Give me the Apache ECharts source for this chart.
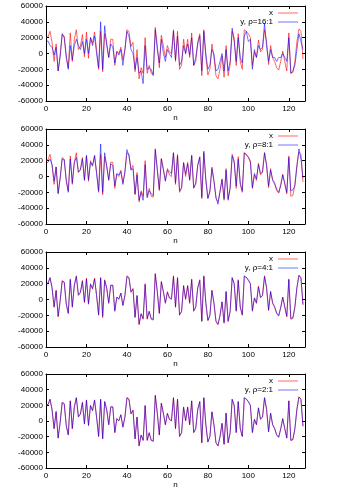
<!DOCTYPE html>
<html>
<head>
<meta charset="utf-8">
<script src="https://cdn.jsdelivr.net/npm/echarts@6/dist/echarts.min.js"></script>
<style>
    html, body { margin: 0; padding: 0; background: #fff; }
    #main { width: 350px; height: 490px; }
</style>
</head>
<body>
<div id="main"></div>
<script>
// original signal x (same in every panel)
var x = [
    20000, 21000, 28000, 14000, -10000, 12000, -22000, -2000, 24000, 22000, -6000, -18000, 26000, -10000, 18000, 30000,
    5000, 9000, 24000, -4000, 27000, -6000, 20000, 13000, 27000, 5000, -20000, 28000, -23000, 25000, 14000, -5000,
    18000, 18000, -15000, 3000, 0, 8000, -8000, 5000, 30000, 28000, 9000, 14000, -23000, 5000, -32000, -18000,
    -25000, 20000, -25000, -15000, -25000, -26000, 33000, 10000, -18000, 23000, 10000, -5000, 10000, 2000, 0, 30000,
    -10000, 28000, -20000, -15000, 18000, 0, 18000, -5000, 26000, -15000, -10000, 15000, 25000, -28000, 30000, -5000,
    -27000, -20000, 12000, -5000, -28000, -32000, -20000, -3000, -30000, 10000, -28000, -15000, 28000, 20000, -15000, 25000,
    -10000, -20000, 30000, 28000, 25000, 20000, -15000, 2000, -5000, 17000, 2000, 5000, 30000, 15000, -14000, 10000,
    -5000, -10000, -18000, -21000, -10000, 3000, -10000, -22000, 26000, -25000, -24000, -10000, 15000, 31000, 28000, -7000
];
// reconstructed y for each compression ratio
var y16 = [
    14000, 16000, 10000, 8000, -2000, 8000, -22000, -4000, 25000, 20000, -2000, -20000, 10000, -8000, 10000, 18000,
    10000, 5000, 15000, 0, 18000, 0, 20000, 10000, 22000, 0, -18000, 40000, -20000, 35000, 10000, -5000,
    12000, 8000, -12000, 2000, -2000, 5000, -15000, 5000, 28000, 22000, 5000, 0, -20000, -5000, -25000, -22000,
    -38000, 10000, -20000, -18000, -20000, -28000, 30000, 5000, -12000, 18000, 0, -10000, 5000, 0, -5000, 28000,
    -8000, 22000, -15000, -10000, 10000, 0, 12000, -2000, 20000, -15000, -5000, 12000, 22000, -22000, 28000, 0,
    -20000, -15000, 5000, 0, -22000, -20000, -10000, 0, -22000, 5000, -22000, -10000, 32000, 15000, -10000, 20000,
    -5000, -12000, 22000, 28000, 15000, 18000, -20000, 5000, -5000, 10000, 5000, 8000, 38000, 10000, -10000, 5000,
    -5000, -5000, -10000, -5000, -5000, 0, -5000, -10000, 20000, -25000, -22000, -15000, 5000, 25000, 15000, 5000
];
var y8 = [
    17000, 18000, 22000, 15000, -6000, 12000, -21000, -2000, 22000, 21000, -4000, -20000, 22000, -8000, 18000, 24000,
    6000, 8000, 22000, -5000, 26000, -4000, 18000, 14000, 26000, 4000, -18000, 41000, -20000, 30000, 12000, -4000,
    16000, 14000, -12000, 4000, 2000, 6000, -10000, 6000, 34000, 26000, 8000, 10000, -22000, 2000, -30000, -20000,
    -30000, 15000, -27000, -18000, -22000, -24000, 35000, 8000, -16000, 22000, 8000, -6000, 8000, 6000, 4000, 30000,
    -8000, 26000, -18000, -14000, 17000, 3000, 16000, -4000, 27000, -14000, -8000, 14000, 24000, -26000, 32000, -4000,
    -28000, -18000, 10000, -6000, -26000, -35000, -18000, -4000, -28000, 8000, -30000, -14000, 26000, 18000, -12000, 22000,
    -8000, -18000, 30000, 27000, 24000, 18000, -14000, 4000, -3000, 15000, 4000, 6000, 30000, 14000, -12000, 8000,
    -4000, -8000, -16000, -20000, -12000, 2000, -8000, -20000, 24000, -18000, -17000, -12000, 12000, 35000, 22000, -2000
];
var y4 = [
    19000, 20000, 27000, 15000, -9000, 11000, -21000, -1000, 23000, 22000, -5000, -17000, 25000, -9000, 18000, 29000,
    6000, 9000, 23000, -3000, 26000, -5000, 19000, 14000, 26000, 5000, -19000, 27000, -21000, 24000, 15000, -4000,
    18000, 18000, -14000, 3000, 1000, 8000, -7000, 5000, 29000, 27000, 10000, 13000, -22000, 5000, -31000, -18000,
    -24000, 19000, -24000, -15000, -24000, -25000, 32000, 10000, -17000, 22000, 10000, -4000, 9000, 2000, 1000, 29000,
    -9000, 27000, -19000, -15000, 17000, 1000, 17000, -4000, 25000, -14000, -9000, 15000, 24000, -27000, 29000, -4000,
    -26000, -20000, 11000, -4000, -27000, -31000, -20000, -3000, -29000, 10000, -27000, -15000, 27000, 20000, -14000, 24000,
    -9000, -19000, 29000, 28000, 24000, 20000, -14000, 2000, -4000, 16000, 3000, 5000, 29000, 15000, -13000, 10000,
    -4000, -9000, -17000, -20000, -10000, 3000, -9000, -21000, 25000, -24000, -23000, -9000, 15000, 30000, 27000, -6000
];
var y2 = [
    20000, 21000, 27500, 14500, -9500, 12000, -21500, -1500, 23500, 22000, -5500, -17500, 25500, -9500, 18000, 29500,
    5500, 9000, 23500, -3500, 26500, -5500, 19500, 13500, 26500, 5000, -19500, 27500, -22500, 24500, 14500, -4500,
    18000, 18000, -14500, 3000, 500, 8000, -7500, 5000, 29500, 27500, 9500, 13500, -22500, 5000, -31500, -18000,
    -24500, 19500, -24500, -15000, -24500, -25500, 32500, 10000, -17500, 22500, 10000, -4500, 9500, 2000, 500, 29500,
    -9500, 27500, -19500, -15000, 17500, 500, 17500, -4500, 25500, -14500, -9500, 15000, 24500, -27500, 29500, -4500,
    -26500, -20000, 11500, -4500, -27500, -31500, -20000, -3000, -29500, 10000, -27500, -15000, 27500, 20000, -14500, 24500,
    -9500, -19500, 29500, 28000, 24500, 20000, -14500, 2000, -4500, 16500, 2500, 5000, 29500, 15000, -13500, 10000,
    -4500, -9500, -17500, -20500, -10000, 3000, -9500, -21500, 25500, -24500, -23500, -9500, 15000, 30500, 27500, -6500
];
var ratios = ['16:1', '8:1', '4:1', '2:1'];
var yList = [y16, y8, y4, y2];

window.onload = function(){
    var myChart = echarts.init(document.getElementById('main'));
    var font = 'Liberation Sans, Arial, sans-serif';
    var tops = [6, 129, 252, 374];
    var grid = [], xAxis = [], yAxis = [], series = [], legend = [];

    function pairs(arr){
        var out = [];
        for(var i = 0; i < arr.length; i++){
            out.push([i, arr[i]]);
        }
        return out;
    }

    var lineStyle = { color: '#000', width: 1 };
    var tickStyle = { inside: true, length: 3, lineStyle: { color: '#000', width: 1 } };

    for(var k = 0; k < 4; k++){
        grid.push({ left: 46, width: 259, top: tops[k], height: 95 });
        // bottom + top (mirror) x axes
        xAxis.push({
            gridIndex: k, type: 'value', min: 0, max: 128, interval: 20,
            name: 'n', nameLocation: 'middle', nameGap: 13,
            nameTextStyle: { fontSize: 8, fontFamily: font, color: '#000' },
            axisLine: { onZero: false, lineStyle: lineStyle }, axisTick: tickStyle,
            axisLabel: { fontSize: 8, fontFamily: font, color: '#000', margin: 4, showMaxLabel: false },
            splitLine: { show: false }
        });
        xAxis.push({
            gridIndex: k, type: 'value', min: 0, max: 128, interval: 20, position: 'top',
            axisLine: { onZero: false, lineStyle: lineStyle }, axisTick: tickStyle,
            axisLabel: { show: false }, splitLine: { show: false }
        });
        // left + right y axes
        yAxis.push({
            gridIndex: k, type: 'value', min: -60000, max: 60000, interval: 20000,
            axisLine: { show: true, onZero: false, lineStyle: lineStyle }, axisTick: tickStyle,
            axisLabel: { fontSize: 8, fontFamily: font, color: '#000', margin: 3,
                formatter: function(v){ return String(v); } },
            splitLine: { show: false }
        });
        yAxis.push({
            gridIndex: k, type: 'value', min: -60000, max: 60000, interval: 20000, position: 'right',
            axisLine: { show: true, onZero: false, lineStyle: lineStyle }, axisTick: tickStyle,
            axisLabel: { show: false }, splitLine: { show: false }
        });

        var yName = 'y, \u03c1=' + ratios[k];
        series.push({
            name: 'x', type: 'line', xAxisIndex: 2 * k, yAxisIndex: 2 * k,
            data: pairs(x), symbol: 'none', animation: false,
            lineStyle: { color: 'rgba(255,0,0,0.6)', width: 1 },
            itemStyle: { color: 'rgba(255,0,0,0.6)' }
        });
        series.push({
            name: yName, type: 'line', xAxisIndex: 2 * k, yAxisIndex: 2 * k,
            data: pairs(yList[k]), symbol: 'none', animation: false,
            lineStyle: { color: 'rgba(0,0,255,0.55)', width: 1 },
            itemStyle: { color: 'rgba(0,0,255,0.55)' }
        });

        legend.push({
            data: ['x', yName], orient: 'vertical', align: 'right',
            right: 52, top: tops[k] + 3, padding: 0, itemGap: 1,
            icon: 'rect', itemWidth: 20, itemHeight: 1,
            textStyle: { fontSize: 8, fontFamily: font, color: '#000' },
            selectedMode: false
        });
    }

    myChart.setOption({
        animation: false,
        grid: grid, xAxis: xAxis, yAxis: yAxis,
        legend: legend, series: series
    });
}
</script>
</body>
</html>
